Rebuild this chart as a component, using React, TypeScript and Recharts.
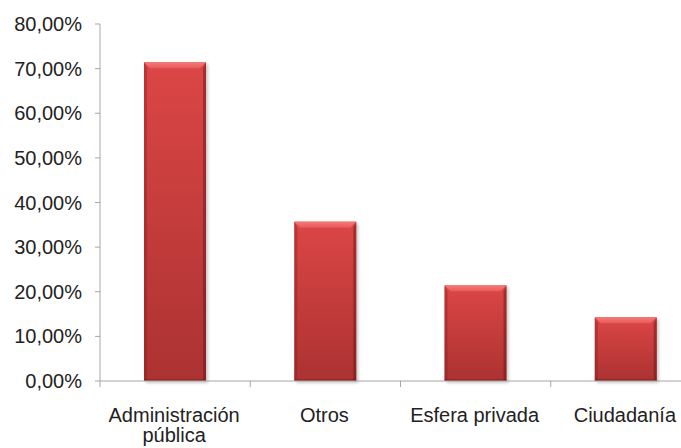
import { BarChart, Bar, XAxis, YAxis, Text } from 'recharts'

const categories = ['Administración pública', 'Otros', 'Esfera privada', 'Ciudadanía']
const shares = [71.43, 35.71, 21.43, 14.29]
const yTicks = [0, 10, 20, 30, 40, 50, 60, 70, 80]

const chartData = categories.map((name, i) => ({ name, value: shares[i] }))

const FONT = '"Liberation Sans", Arial, sans-serif'
const AXIS = '#a6a6a6'

const formatPct = (v: number) => v.toFixed(2).replace('.', ',') + '%'

function BevelBar(props: any) {
  const { x, y, width, height } = props
  if (!height || height <= 0) return null
  const b = Math.min(6, height / 2)
  const s = 3
  return (
    <g>
      <rect x={x + 2} y={y + 2} width={width} height={height} fill="#000" opacity={0.22} filter="url(#barShadow)" />
      <rect x={x} y={y} width={width} height={height} fill="url(#barBody)" />
      <polygon
        points={`${x},${y} ${x + width},${y} ${x + width - b},${y + b} ${x + b},${y + b}`}
        fill="url(#barTop)"
      />
      <polygon
        points={`${x},${y} ${x + s},${y + b} ${x + s},${y + height - 1} ${x},${y + height}`}
        fill="#7a1a1a"
        opacity={0.35}
      />
      <polygon
        points={`${x + width},${y} ${x + width - s},${y + b} ${x + width - s},${y + height - 1} ${x + width},${y + height}`}
        fill="#6a1010"
        opacity={0.45}
      />
      <rect x={x} y={y + height - 2} width={width} height={2} fill="#6a1010" opacity={0.35} />
    </g>
  )
}

function CategoryTick(props: any) {
  const { x, y, payload, index, visibleTicksCount, width } = props
  const count = visibleTicksCount || categories.length
  const band = (typeof width === 'number' && width > 0 ? width : 601) / count
  const left = x - band / 2
  return (
    <g>
      <line x1={left} y1={y - 8} x2={left} y2={y - 2} stroke={AXIS} />
      {index === count - 1 && (
        <line x1={left + band} y1={y - 8} x2={left + band} y2={y - 2} stroke={AXIS} />
      )}
      <Text
        x={x - 1}
        y={y + 19}
        width={band}
        textAnchor="middle"
        verticalAnchor="start"
        lineHeight={20}
        fontSize={20}
        fontFamily={FONT}
        fill="#222"
      >
        {payload.value}
      </Text>
    </g>
  )
}

export default function App() {
  return (
    <div style={{ position: 'relative', width: 681, height: 448, overflow: 'hidden', background: '#fff' }}>
      <style>{'body { margin: 0; }'}</style>
      <div style={{ position: 'absolute', left: 8, top: 8 }}>
        <BarChart
          width={710}
          height={440}
          data={chartData}
          margin={{ top: 16, right: 17, bottom: 0, left: 0 }}
          style={{ fontFamily: FONT }}
        >
          <defs>
            <linearGradient id="barBody" x1="0" y1="0" x2="0" y2="1">
              <stop offset="0%" stopColor="#dc4646" />
              <stop offset="100%" stopColor="#ac3232" />
            </linearGradient>
            <linearGradient id="barTop" x1="0" y1="0" x2="0" y2="1">
              <stop offset="0%" stopColor="#f47a7a" />
              <stop offset="100%" stopColor="#e85a5a" />
            </linearGradient>
            <filter id="barShadow" x="-20%" y="-20%" width="140%" height="140%">
              <feGaussianBlur stdDeviation="1.5" />
            </filter>
          </defs>
          <XAxis
            dataKey="name"
            interval={0}
            height={67}
            axisLine={{ stroke: AXIS }}
            tickLine={false}
            tick={<CategoryTick />}
          />
          <YAxis
            width={92}
            domain={[0, 80]}
            ticks={yTicks}
            interval={0}
            tickFormatter={formatPct}
            tickSize={5}
            tickMargin={13}
            axisLine={{ stroke: AXIS }}
            tickLine={{ stroke: AXIS }}
            tick={{ fontSize: 20, fill: '#222', fontFamily: FONT }}
          />
          <Bar dataKey="value" barSize={62} shape={<BevelBar />} isAnimationActive={false} />
        </BarChart>
      </div>
    </div>
  )
}
